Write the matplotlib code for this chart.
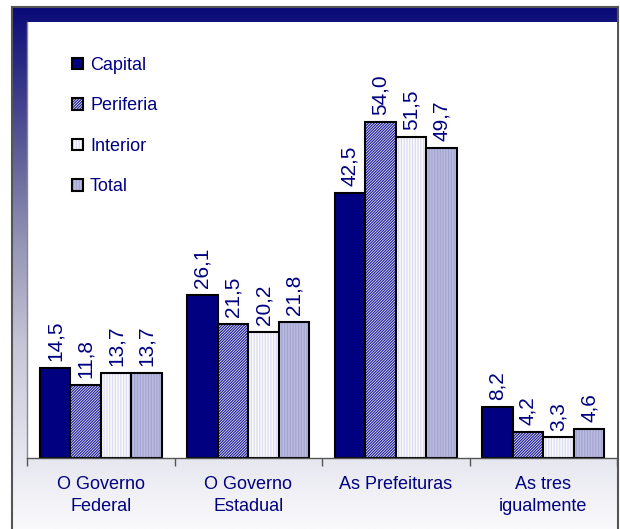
import matplotlib
matplotlib.use("Agg")
import matplotlib.pyplot as plt
import numpy as np
from matplotlib.colors import LinearSegmentedColormap
from matplotlib.patches import Patch

plt.rcParams['font.family'] = ['Liberation Sans', 'DejaVu Sans']
plt.rcParams['hatch.linewidth'] = 0.9

categories = ["O Governo\nFederal", "O Governo\nEstadual", "As Prefeituras", "As tres\nigualmente"]
series = ["Capital", "Periferia", "Interior", "Total"]
capital = [14.5, 26.1, 42.5, 8.2]
periferia = [11.8, 21.5, 54.0, 4.2]
interior = [13.7, 20.2, 51.5, 3.3]
total = [13.7, 21.8, 49.7, 4.6]

NAVY = "#000080"
# face colour, hatch pattern, hatch colour for each series
styles = [
    ("#000080", None, "#000080"),
    ("#ffffff", "////////////", "#20209a"),
    ("#fafafd", "||||||", "#dcdcf0"),
    ("#bcbce0", "||||||", "#a4a4d2"),
]

W, H = 620, 529
fig = plt.figure(figsize=(W / 100, H / 100), dpi=100)
fig.patch.set_facecolor("white")

# gradient panel behind the plot
bg = fig.add_axes([12 / W, 0, (618 - 12) / W, (H - 7) / H])
grad_cmap = LinearSegmentedColormap.from_list(
    "panel", [(0, "#0a0a78"), (0.28, "#5e5e98"), (0.45, "#9494b6"),
              (0.65, "#c6c6d8"), (0.85, "#e4e4ee"), (1, "#fafafc")])
bg.imshow(np.linspace(0, 1, 256)[:, None], aspect="auto", cmap=grad_cmap,
          extent=[0, 1, 0, 1])
bg.set_xlim(0, 1)
bg.set_ylim(0, 1)
bg.set_xticks([])
bg.set_yticks([])
for s in ["top", "left", "right"]:
    bg.spines[s].set_color("#555555")
    bg.spines[s].set_linewidth(1.5)
bg.spines["bottom"].set_visible(False)

ax = fig.add_axes([27 / W, (H - 458) / H, (617 - 27) / W, (458 - 22) / H])
ax.set_facecolor("white")

x = np.arange(len(categories))
width = 0.207
data = [capital, periferia, interior, total]
handles = []
for i, (vals, (fc, hatch, hc)) in enumerate(zip(data, styles)):
    pos = x + (i - 1.5) * width
    ax.bar(pos, vals, width, color=fc, edgecolor=hc, hatch=hatch, linewidth=0)
    ax.bar(pos, vals, width, fill=False, edgecolor="black", linewidth=1.5)
    for px, v in zip(pos, vals):
        ax.annotate(f"{v:.1f}".replace(".", ","), (px, v), xytext=(0, 5),
                    textcoords="offset points", rotation=90, ha="center",
                    va="bottom", color=NAVY, fontsize=15)
    handles.append((Patch(facecolor=fc, edgecolor=hc, hatch=hatch, linewidth=0),
                    Patch(fill=False, edgecolor="black", linewidth=1.5)))

ax.set_xlim(-0.5, 3.5)
ax.set_ylim(0, 70)
ax.set_yticks([])
ax.set_xticks(x)
ax.set_xticklabels(categories, color=NAVY, fontsize=13, linespacing=1.35)
ax.tick_params(axis="x", which="major", length=0, pad=13)
ax.set_xticks(np.arange(-0.5, 4, 1), minor=True)
ax.tick_params(axis="x", which="minor", length=6, color="#555555", width=1)
for s in ["top", "right"]:
    ax.spines[s].set_visible(False)
ax.spines["left"].set_color("#888888")
ax.spines["left"].set_linewidth(1)
ax.spines["bottom"].set_color("#555555")
ax.spines["bottom"].set_linewidth(1)

ax.legend(handles, series, loc="upper left", bbox_to_anchor=(72 / W, 1 - 57 / H),
          bbox_transform=fig.transFigure, frameon=False, fontsize=13,
          labelcolor=NAVY, handlelength=0.6, handleheight=0.6,
          handletextpad=0.4, labelspacing=1.3, borderpad=0, borderaxespad=0)

fig.savefig("out.png", dpi=100)
